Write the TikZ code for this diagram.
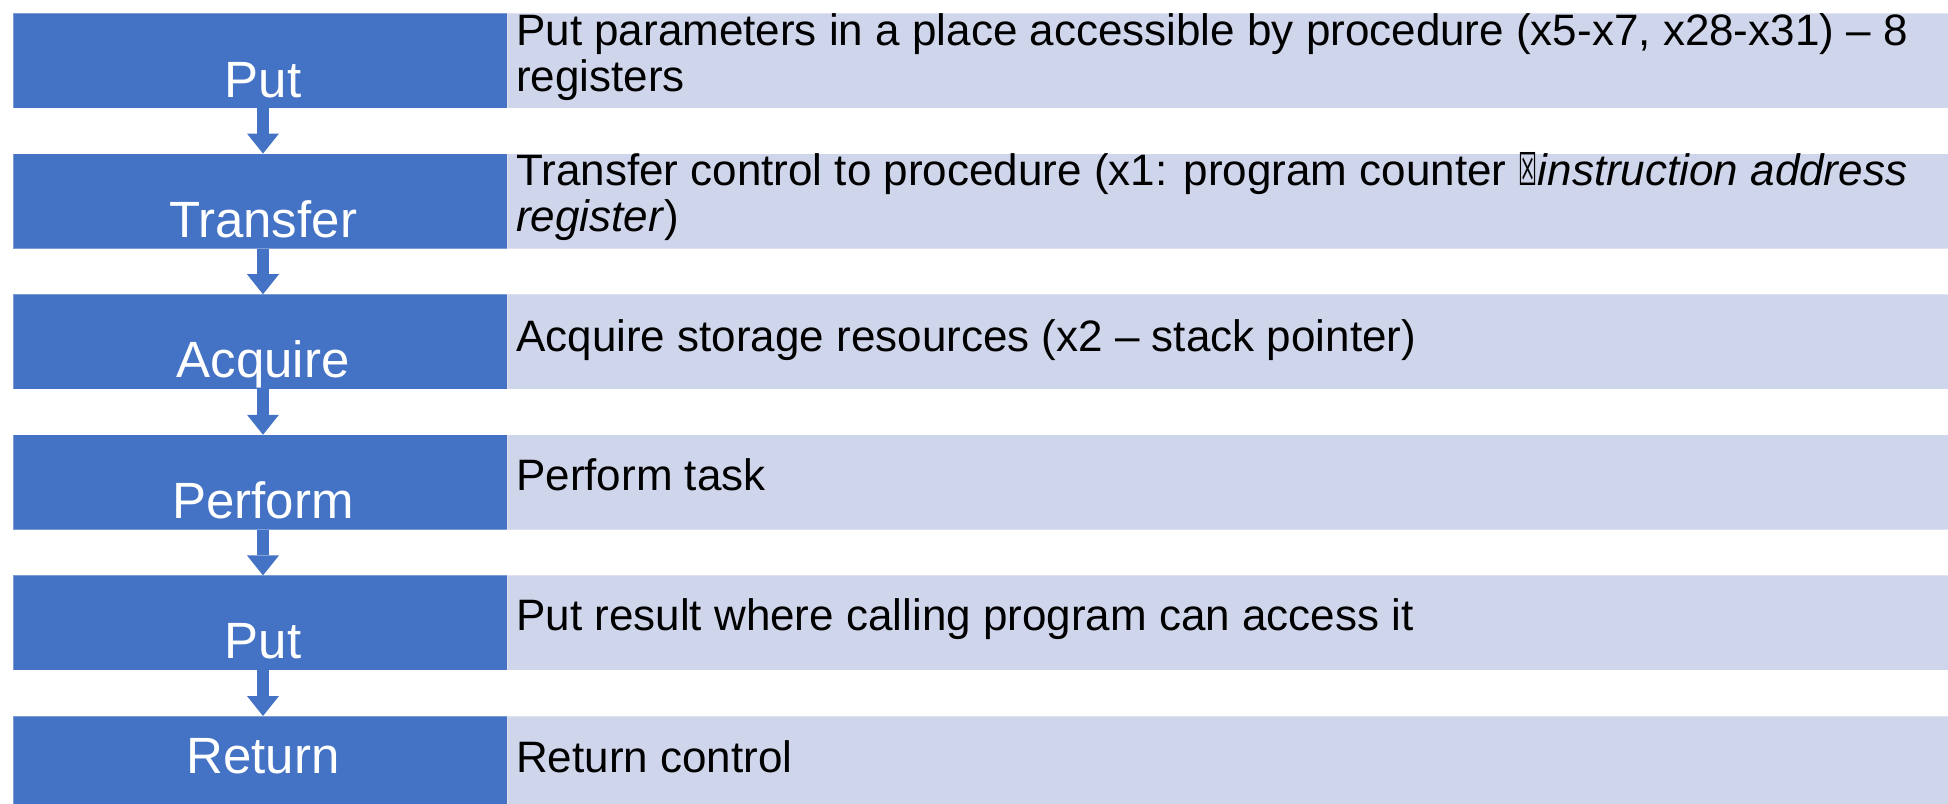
\documentclass[tikz,border=0pt]{standalone}
\usepackage{fontspec}
\setmainfont{Liberation Sans}
\newfontfamily\symfont{DejaVu Sans}
\usetikzlibrary{arrows.meta}
\definecolor{stepblue}{HTML}{4472C4}
\definecolor{steptint}{HTML}{CFD5EA}
% placeholder glyph box (tall framed box with a cross)
\newcommand{\glyphbox}{\resizebox{19pt}{33pt}{\symfont ☒}}
\tikzset{
  headbox/.style={rectangle, fill=stepblue, draw=white, draw opacity=0.3,
    line width=1pt, inner sep=0pt, outer sep=0pt, minimum width=494pt,
    anchor=north west},
  bodybox/.style={rectangle, fill=steptint, draw=white, draw opacity=0.35,
    line width=1pt, inner sep=0pt, outer sep=0pt, minimum width=1441pt,
    anchor=north west},
  headlabel/.style={text=white, inner sep=0pt, anchor=base,
    font=\fontsize{51}{56}\selectfont},
  bodytext/.style={text=black, inner sep=0pt, anchor=base west,
    font=\fontsize{44}{46}\selectfont},
  flow/.style={draw=stepblue, line width=12pt,
    -{Triangle[width=32pt,length=20pt,line width=0pt]}}
}
\begin{document}
\begin{tikzpicture}[x=1pt,y=-1pt]
\useasboundingbox (0,0) rectangle (1948,803);

% left column: step boxes
\node[headbox, minimum height=95pt] (h0) at (13,13)    {};
\node[headbox, minimum height=95pt] (h1) at (13,153.6) {};
\node[headbox, minimum height=95pt] (h2) at (13,294.2) {};
\node[headbox, minimum height=95pt] (h3) at (13,434.8) {};
\node[headbox, minimum height=95pt] (h4) at (13,575.4) {};
\node[headbox, minimum height=88pt] (h5) at (13,716)   {};

% right column: description panels
\node[bodybox, minimum height=95pt] (d0) at (507,13)    {};
\node[bodybox, minimum height=95pt] (d1) at (507,153.6) {};
\node[bodybox, minimum height=95pt] (d2) at (507,294.2) {};
\node[bodybox, minimum height=95pt] (d3) at (507,434.8) {};
\node[bodybox, minimum height=95pt] (d4) at (507,575.4) {};
\node[bodybox, minimum height=88pt] (d5) at (507,716)   {};

% step labels
\node[headlabel] (l0) at (263,97)    {Put};
\node[headlabel] (l1) at (263,237.5) {Transfer};
\node[headlabel] (l2) at (263,377)   {Acquire};
\node[headlabel] (l3) at (263,518)   {Perform};
\node[headlabel] (l4) at (263,658.5) {Put};
\node[headlabel] (l5) at (263,773)   {Return};

% descriptions
\node[bodytext] (t0) at (516,45) {\begin{tabular}[t]{@{}l@{}}Put parameters in a place accessible by procedure (x5-x7, x28-x31) – 8\\registers\end{tabular}};
\node[bodytext] (t1) at (516,185) {\begin{tabular}[t]{@{}l@{}}Transfer control to procedure (x1: program counter \glyphbox\textit{instruction address}\\\textit{register})\end{tabular}};
\node[bodytext] (t2) at (516,351)   {Acquire storage resources (x2 – stack pointer)};
\node[bodytext] (t3) at (516,490)   {Perform task};
\node[bodytext] (t4) at (516,630.5) {Put result where calling program can access it};
\node[bodytext] (t5) at (516,772)   {Return control};

% flow arrows between steps
\draw[flow] ([xshift=3pt]h0.south) -- ([xshift=3pt]h1.north);
\draw[flow] ([xshift=3pt]h1.south) -- ([xshift=3pt]h2.north);
\draw[flow] ([xshift=3pt]h2.south) -- ([xshift=3pt]h3.north);
\draw[flow] ([xshift=3pt]h3.south) -- ([xshift=3pt]h4.north);
\draw[flow] ([xshift=3pt]h4.south) -- ([xshift=3pt]h5.north);
\end{tikzpicture}
\end{document}
